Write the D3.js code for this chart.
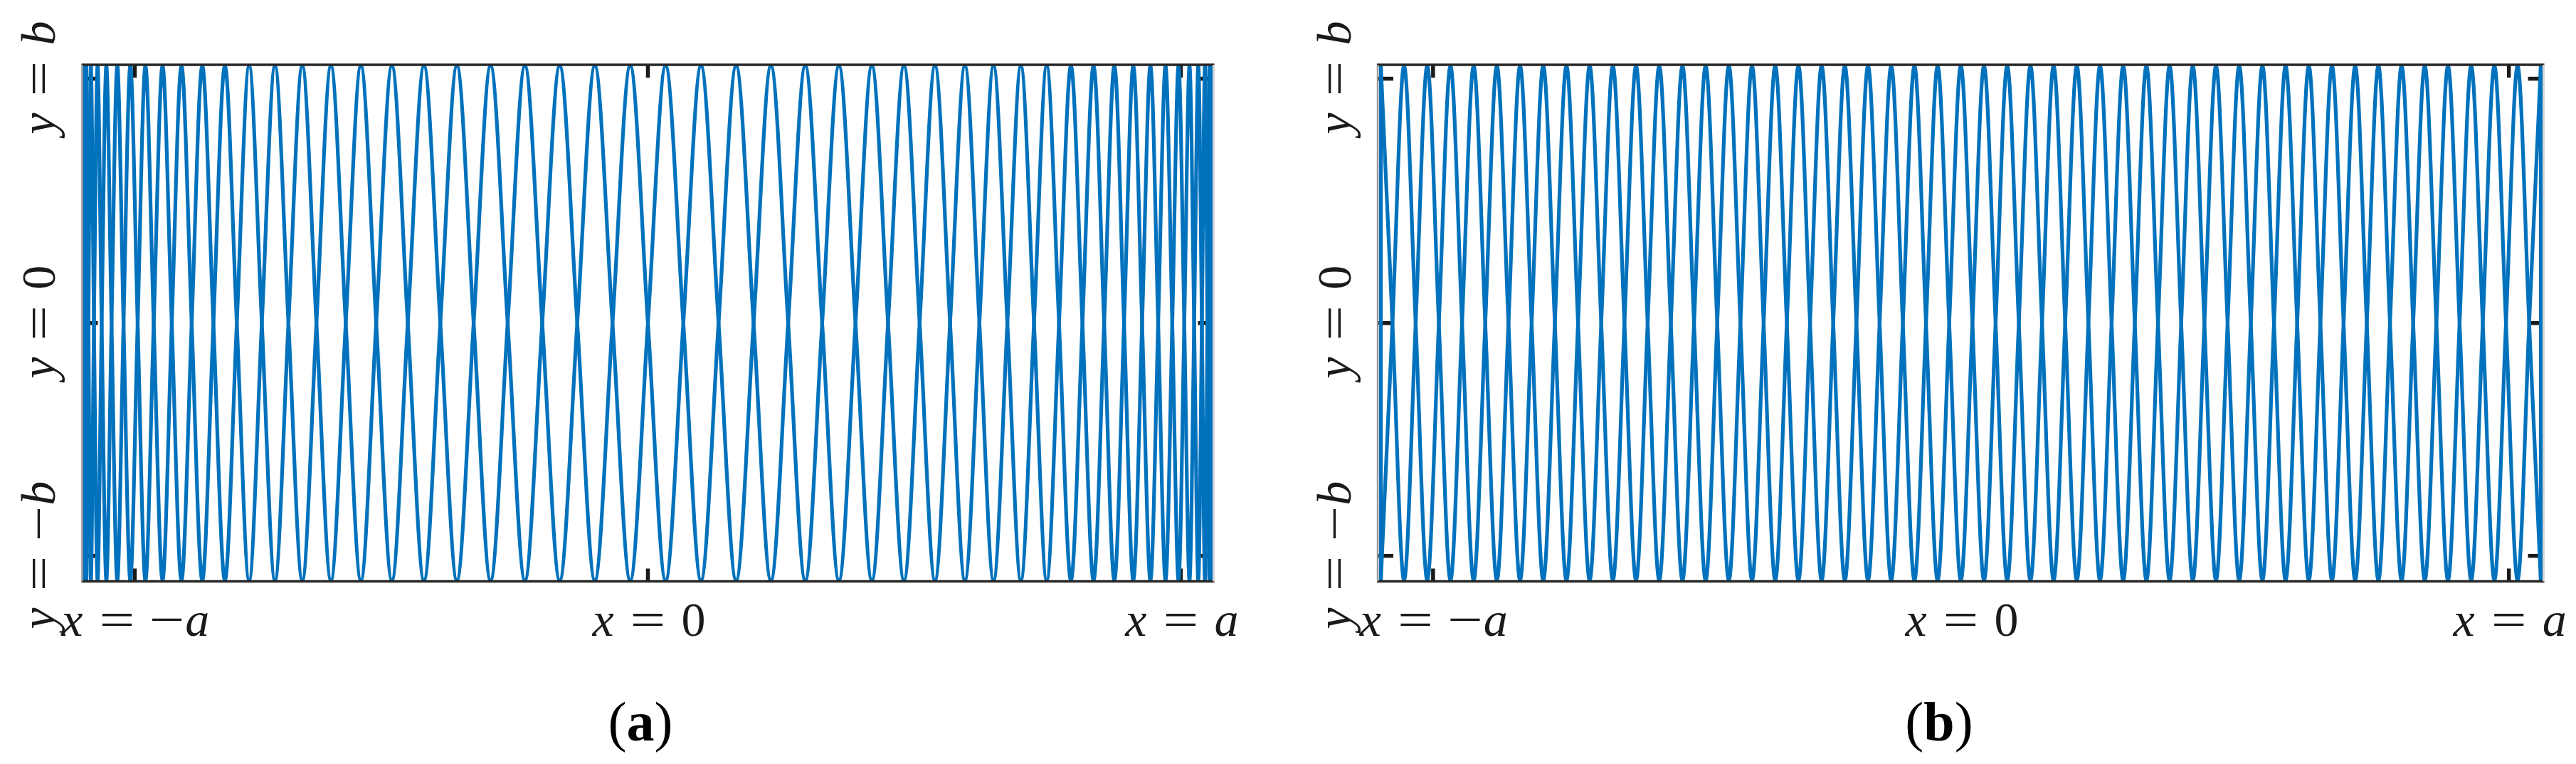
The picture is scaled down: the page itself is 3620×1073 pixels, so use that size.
<!DOCTYPE html>
<html><head><meta charset="utf-8">
<script src="https://cdn.jsdelivr.net/npm/d3@7"></script>
<style>html,body{margin:0;padding:0;background:#fff;} svg{display:block;}</style>
</head><body>
<svg id="chart" width="3620" height="1073"></svg>
<script>
// ================= DATA =================
// Panel (a): sample positions along x (in units of a) – extrema and zero crossings
const xA = [
 -1,-0.9995,-0.998,-0.9956,-0.9921,-0.9877,-0.9823,-0.9759,-0.9686,-0.9603,
 -0.9511,-0.9409,-0.9298,-0.9178,-0.9048,-0.891,-0.8763,-0.8607,-0.8443,-0.8271,
 -0.809,-0.7902,-0.7705,-0.7501,-0.729,-0.7071,-0.6846,-0.6613,-0.6374,-0.6129,
 -0.5878,-0.5621,-0.5358,-0.509,-0.4818,-0.454,-0.4258,-0.3971,-0.3681,-0.3387,
 -0.309,-0.279,-0.2487,-0.2181,-0.1874,-0.1564,-0.1253,-0.0941,-0.0628,-0.0314,
 0,
 0.0314,0.0628,0.0941,0.1253,0.1564,0.1874,0.2181,0.2487,0.279,0.309,
 0.3387,0.3681,0.3971,0.4258,0.454,0.4818,0.509,0.5358,0.5621,0.5878,
 0.6129,0.6374,0.6613,0.6846,0.7071,0.729,0.7501,0.7705,0.7902,0.809,
 0.8271,0.8443,0.8607,0.8763,0.891,0.9048,0.9178,0.9298,0.9409,0.9511,
 0.9603,0.9686,0.9759,0.9823,0.9877,0.9921,0.9956,0.998,0.9995,1
];
// Panel (a): y (in units of b) on the outbound sweep and on the return sweep
const yA_out = [
 0,1,0,-1, 0,1,0,-1, 0,1,0,-1, 0,1,0,-1, 0,1,0,-1,
 0,1,0,-1, 0,1,0,-1, 0,1,0,-1, 0,1,0,-1, 0,1,0,-1,
 0,1,0,-1, 0,1,0,-1, 0,1,0,-1, 0,1,0,-1, 0,1,0,-1,
 0,1,0,-1, 0,1,0,-1, 0,1,0,-1, 0,1,0,-1, 0,1,0,-1,
 0,1,0,-1, 0,1,0,-1, 0,1,0,-1, 0,1,0,-1, 0,1,0,-1,
 0
];
const yA_back = [
 0,-1,0,1, 0,-1,0,1, 0,-1,0,1, 0,-1,0,1, 0,-1,0,1,
 0,-1,0,1, 0,-1,0,1, 0,-1,0,1, 0,-1,0,1, 0,-1,0,1,
 0,-1,0,1, 0,-1,0,1, 0,-1,0,1, 0,-1,0,1, 0,-1,0,1,
 0,-1,0,1, 0,-1,0,1, 0,-1,0,1, 0,-1,0,1, 0,-1,0,1,
 0,-1,0,1, 0,-1,0,1, 0,-1,0,1, 0,-1,0,1, 0,-1,0,1,
 0
];
// Panel (b): evenly spaced sample positions (in units of a)
const xB = [
 -1,-0.98,-0.96,-0.94,-0.92,-0.9,-0.88,-0.86,-0.84,-0.82,
 -0.8,-0.78,-0.76,-0.74,-0.72,-0.7,-0.68,-0.66,-0.64,-0.62,
 -0.6,-0.58,-0.56,-0.54,-0.52,-0.5,-0.48,-0.46,-0.44,-0.42,
 -0.4,-0.38,-0.36,-0.34,-0.32,-0.3,-0.28,-0.26,-0.24,-0.22,
 -0.2,-0.18,-0.16,-0.14,-0.12,-0.1,-0.08,-0.06,-0.04,-0.02,
 0,
 0.02,0.04,0.06,0.08,0.1,0.12,0.14,0.16,0.18,0.2,
 0.22,0.24,0.26,0.28,0.3,0.32,0.34,0.36,0.38,0.4,
 0.42,0.44,0.46,0.48,0.5,0.52,0.54,0.56,0.58,0.6,
 0.62,0.64,0.66,0.68,0.7,0.72,0.74,0.76,0.78,0.8,
 0.82,0.84,0.86,0.88,0.9,0.92,0.94,0.96,0.98,1
];
const yB_out = [
 1,0,-1,0, 1,0,-1,0, 1,0,-1,0, 1,0,-1,0, 1,0,-1,0,
 1,0,-1,0, 1,0,-1,0, 1,0,-1,0, 1,0,-1,0, 1,0,-1,0,
 1,0,-1,0, 1,0,-1,0, 1,0,-1,0, 1,0,-1,0, 1,0,-1,0,
 1,0,-1,0, 1,0,-1,0, 1,0,-1,0, 1,0,-1,0, 1,0,-1,0,
 1,0,-1,0, 1,0,-1,0, 1,0,-1,0, 1,0,-1,0, 1,0,-1,0,
 1
];
const yB_back = [
 -1,0,1,0, -1,0,1,0, -1,0,1,0, -1,0,1,0, -1,0,1,0,
 -1,0,1,0, -1,0,1,0, -1,0,1,0, -1,0,1,0, -1,0,1,0,
 -1,0,1,0, -1,0,1,0, -1,0,1,0, -1,0,1,0, -1,0,1,0,
 -1,0,1,0, -1,0,1,0, -1,0,1,0, -1,0,1,0, -1,0,1,0,
 -1,0,1,0, -1,0,1,0, -1,0,1,0, -1,0,1,0, -1,0,1,0,
 -1
];
// Ticks
const xTickValues = [-0.91, 0, 0.945];
const xTickLabels = ["x = −a", "x = 0", "x = a"];
const yTickValues = [-0.905, 0, 0.95];
const yTickLabels = ["y = −b", "y = 0", "y = b"];
const panelLetters = ["a", "b"];

// ================= LAYOUT =================
const svg = d3.select("#chart");
const BLUE = "#0072BD", INK = "#1a1a1a";
const boxTop = 91, boxBot = 816.5;
const FONT = "'Liberation Serif','Times New Roman',serif";
const FS = 68;

const panels = [
  {boxL:115.5, boxR:1705.5, cL:118, cR:1703, xs:xA, yo:yA_out, yb:yA_back, capX:900},
  {boxL:1936, boxR:3574.5, cL:1940.5, cR:3570.5, xs:xB, yo:yB_out, yb:yB_back, capX:2725}
];

function mathLabel(g, label) {
  const toks = [];
  label.split(" ").forEach(t => {
    if (t.startsWith("−") && t.length > 1) { toks.push("−", t.slice(1)); } else toks.push(t);
  });
  const offs = toks.length === 4 ? [-88, -25, 45, 88] : [-63, 0, 64];
  toks.forEach((t, i) => {
    const sym = (t === "=" || t === "−");
    g.append("text")
      .attr("transform", `translate(${offs[i]},0) scale(${sym ? 1.3 : 1},1)`)
      .attr("text-anchor", "middle")
      .attr("font-family", FONT).attr("font-size", FS)
      .attr("font-style", /[a-z]/.test(t) ? "italic" : "normal")
      .attr("fill", INK).text(t);
  });
}

panels.forEach((p, pi) => {
  const x = d3.scaleLinear().domain([-1, 1]).range([p.cL, p.cR]);
  const y = d3.scaleLinear().domain([-1, 1]).range([815, 92.5]);
  const g = svg.append("g");

  // ticks (drawn beneath the data)
  const tk = g.append("g").attr("stroke", INK).attr("stroke-width", 5.5);
  xTickValues.forEach(v => {
    tk.append("line").attr("x1", x(v)).attr("x2", x(v)).attr("y1", boxTop).attr("y2", boxTop + 18);
    tk.append("line").attr("x1", x(v)).attr("x2", x(v)).attr("y1", boxBot).attr("y2", boxBot - 18);
  });
  yTickValues.forEach(v => {
    tk.append("line").attr("x1", p.boxL).attr("x2", p.boxL + 22).attr("y1", y(v)).attr("y2", y(v));
    tk.append("line").attr("x1", p.boxR).attr("x2", p.boxR - 22).attr("y1", y(v)).attr("y2", y(v));
  });

  // clip
  const cid = "clip" + pi;
  svg.append("clipPath").attr("id", cid).append("rect")
    .attr("x", p.boxL).attr("y", boxTop - 2).attr("width", p.boxR - p.boxL).attr("height", boxBot - boxTop + 4);

  const curve = d3.line().x(d => x(d[0])).y(d => y(d[1])).curve(d3.curveCatmullRom.alpha(0.5));
  const out = p.xs.map((v, i) => [v, p.yo[i]]);
  const back = p.xs.map((v, i) => [v, p.yb[i]]);
  const cg = g.append("g").attr("clip-path", `url(#${cid})`)
    .attr("fill", "none").attr("stroke", BLUE).attr("stroke-width", 5.2)
    .attr("stroke-linejoin", "round");
  cg.append("path").attr("d", curve(out));
  cg.append("path").attr("d", curve(back));
  // turnarounds joining the two sweeps at both ends
  const seg = d3.line().x(d => x(d[0])).y(d => y(d[1]));
  cg.append("path").attr("d", seg([out[0], back[0]]));
  cg.append("path").attr("d", seg([out[out.length - 1], back[back.length - 1]]));

  // box
  g.append("line").attr("x1", p.boxL - 1).attr("x2", p.boxR + 1).attr("y1", boxTop).attr("y2", boxTop)
    .attr("stroke", "#262626").attr("stroke-width", 3.5);
  g.append("line").attr("x1", p.boxL - 1).attr("x2", p.boxR + 1).attr("y1", boxBot).attr("y2", boxBot)
    .attr("stroke", "#262626").attr("stroke-width", 3.5);
  g.append("line").attr("x1", p.boxL).attr("x2", p.boxL).attr("y1", boxTop).attr("y2", boxBot)
    .attr("stroke", "#9a9a9a").attr("stroke-width", 2.5);
  g.append("line").attr("x1", p.boxR).attr("x2", p.boxR).attr("y1", boxTop).attr("y2", boxBot)
    .attr("stroke", "#d6d6d6").attr("stroke-width", 3);

  // x tick labels
  xTickValues.forEach((v, i) => {
    mathLabel(g.append("g").attr("transform", `translate(${x(v)},893)`), xTickLabels[i]);
  });
  // y tick labels (rotated)
  yTickValues.forEach((v, i) => {
    mathLabel(g.append("g").attr("transform", `translate(${p.boxL - 38.5},${y(v)}) rotate(-90)`), yTickLabels[i]);
  });

  // caption
  const cap = g.append("text").attr("x", p.capX).attr("y", 1040).attr("text-anchor", "middle")
    .attr("font-family", FONT).attr("font-size", 78).attr("fill", "#000");
  cap.append("tspan").text("(");
  cap.append("tspan").attr("font-weight", "bold").text(panelLetters[pi]);
  cap.append("tspan").text(")");
});
</script>
</body></html>
